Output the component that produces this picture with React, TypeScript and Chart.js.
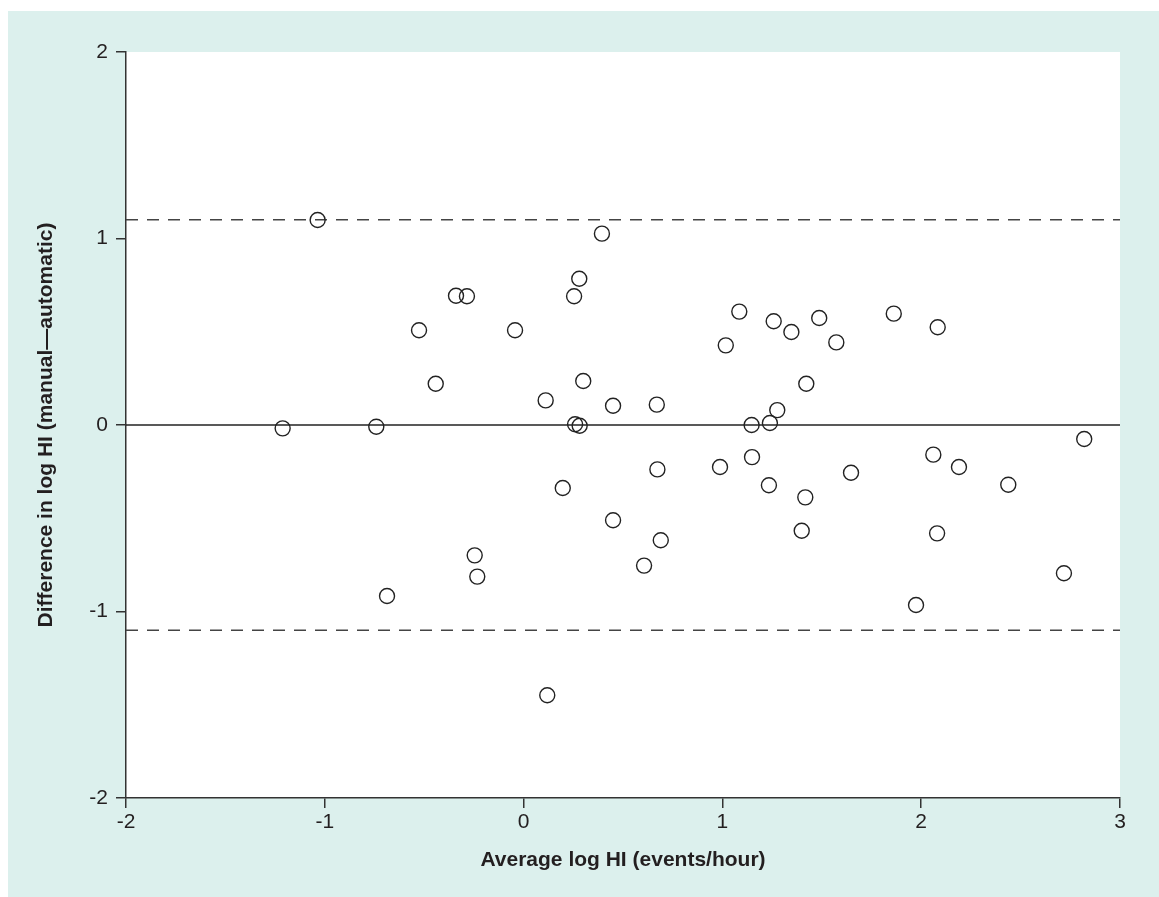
import React, { useEffect, useRef } from "react";
import { Chart, registerables } from "chart.js";

Chart.register(...registerables);

// Bland–Altman data: average log HI (x) vs difference in log HI (y)
const averageLogHI = [
  -1.212, -1.036, -0.741, -0.687, -0.526, -0.442, -0.34, -0.285, -0.246, -0.233,
  -0.043, 0.111, 0.119, 0.197, 0.254, 0.28, 0.259, 0.282, 0.3, 0.394,
  0.45, 0.45, 0.606, 0.67, 0.673, 0.69, 0.988, 1.017, 1.085, 1.147,
  1.149, 1.234, 1.239, 1.258, 1.276, 1.347, 1.399, 1.417, 1.422, 1.487,
  1.573, 1.647, 1.862, 1.974, 2.061, 2.083, 2.08, 2.19, 2.438, 2.718,
  2.82,
];
const differenceLogHI = [
  -0.018, 1.099, -0.009, -0.917, 0.508, 0.221, 0.693, 0.69, -0.699, -0.813,
  0.508, 0.132, -1.449, -0.338, 0.69, 0.784, 0.004, -0.004, 0.236, 1.026,
  0.103, -0.511, -0.754, 0.109, -0.238, -0.618, -0.225, 0.427, 0.608, 0.0,
  -0.172, -0.323, 0.011, 0.556, 0.08, 0.499, -0.567, -0.388, 0.221, 0.574,
  0.443, -0.256, 0.597, -0.965, -0.159, 0.524, -0.581, -0.225, -0.32, -0.795,
  -0.075,
];

const xTicks = [-2, -1, 0, 1, 2, 3];
const yTicks = [-2, -1, 0, 1, 2];
const xRange = [-2, 3];
const yRange = [-2, 2];
const meanDifference = 0;
const upperLimit = 1.1;
const lowerLimit = -1.1;

const xTitle = "Average log HI (events/hour)";
const yTitle = "Difference in log HI (manual\u2014automatic)";

const FONT = "'Liberation Sans', Arial, Helvetica, sans-serif";
const TEAL = "#dcf0ed";
const INK = "#231f20";
const AXIS = "#333333";

const backgroundPlugin = {
  id: "panelBackground",
  beforeDraw(chart: any) {
    const { ctx, width, height, chartArea } = chart;
    ctx.save();
    ctx.fillStyle = "#ffffff";
    ctx.fillRect(0, 0, width, height);
    ctx.fillStyle = TEAL;
    ctx.fillRect(8, 11, width - 8, height - 11);
    ctx.fillStyle = "#ffffff";
    ctx.fillRect(
      chartArea.left,
      chartArea.top,
      chartArea.right - chartArea.left,
      chartArea.bottom - chartArea.top
    );
    ctx.restore();
  },
};

export default function App() {
  const canvasRef = useRef<HTMLCanvasElement | null>(null);

  useEffect(() => {
    const canvas = canvasRef.current;
    if (!canvas) return;

    const points = averageLogHI.map((x, i) => ({ x, y: differenceLogHI[i] }));
    const hLine = (y: number) => xRange.map((x) => ({ x, y }));

    const chart = new Chart(canvas, {
      type: "scatter",
      data: {
        datasets: [
          {
            label: "Mean difference",
            data: hLine(meanDifference),
            showLine: true,
            borderColor: "#222222",
            borderWidth: 1.5,
            pointRadius: 0,
            order: 2,
          },
          {
            label: "Upper limit",
            data: hLine(upperLimit),
            showLine: true,
            borderColor: "#444444",
            borderWidth: 1.5,
            borderDash: [12, 9],
            pointRadius: 0,
            order: 2,
          },
          {
            label: "Lower limit",
            data: hLine(lowerLimit),
            showLine: true,
            borderColor: "#444444",
            borderWidth: 1.5,
            borderDash: [12, 9],
            pointRadius: 0,
            order: 2,
          },
          {
            label: "Subjects",
            data: points,
            pointStyle: "circle",
            pointRadius: 7.5,
            pointBorderWidth: 1.4,
            borderColor: "#222222",
            backgroundColor: "rgba(0,0,0,0)",
            pointBackgroundColor: "rgba(0,0,0,0)",
            order: 1,
          },
        ],
      },
      options: {
        responsive: false,
        animation: false,
        devicePixelRatio: 1,
        layout: { padding: { top: 52, right: 39, left: 0, bottom: 0 } },
        plugins: {
          legend: { display: false },
          tooltip: { enabled: false },
        },
        scales: {
          x: {
            type: "linear",
            min: xRange[0],
            max: xRange[1],
            afterBuildTicks: (scale: any) => {
              scale.ticks = xTicks.map((value) => ({ value }));
            },
            afterFit: (scale: any) => {
              scale.height = 99;
            },
            ticks: {
              color: INK,
              font: { family: FONT, size: 21 },
              padding: 2,
              maxRotation: 0,
            },
            grid: {
              drawOnChartArea: false,
              drawTicks: true,
              tickLength: 10,
              color: AXIS,
              lineWidth: 1.5,
            },
            border: { display: true, color: AXIS, width: 1.5 },
            title: {
              display: true,
              text: xTitle,
              color: INK,
              font: { family: FONT, size: 21, weight: "bold" },
              padding: { top: 0, bottom: 24 },
            },
          },
          y: {
            type: "linear",
            min: yRange[0],
            max: yRange[1],
            afterBuildTicks: (scale: any) => {
              scale.ticks = yTicks.map((value) => ({ value }));
            },
            afterFit: (scale: any) => {
              scale.width = 126;
            },
            ticks: {
              color: INK,
              font: { family: FONT, size: 21 },
              padding: 8,
            },
            grid: {
              drawOnChartArea: false,
              drawTicks: true,
              tickLength: 10,
              color: AXIS,
              lineWidth: 1.5,
            },
            border: { display: true, color: AXIS, width: 1.5 },
            title: {
              display: true,
              text: yTitle,
              color: INK,
              font: { family: FONT, size: 21, weight: "bold" },
              padding: { top: 34, bottom: 0 },
            },
          },
        },
      },
      plugins: [backgroundPlugin],
    });

    return () => {
      chart.destroy();
    };
  }, []);

  return (
    <div style={{ position: "fixed", left: 0, top: 0, width: 1159, height: 897 }}>
      <canvas
        ref={canvasRef}
        width={1159}
        height={897}
        style={{ display: "block", width: 1159, height: 897 }}
      />
    </div>
  );
}
